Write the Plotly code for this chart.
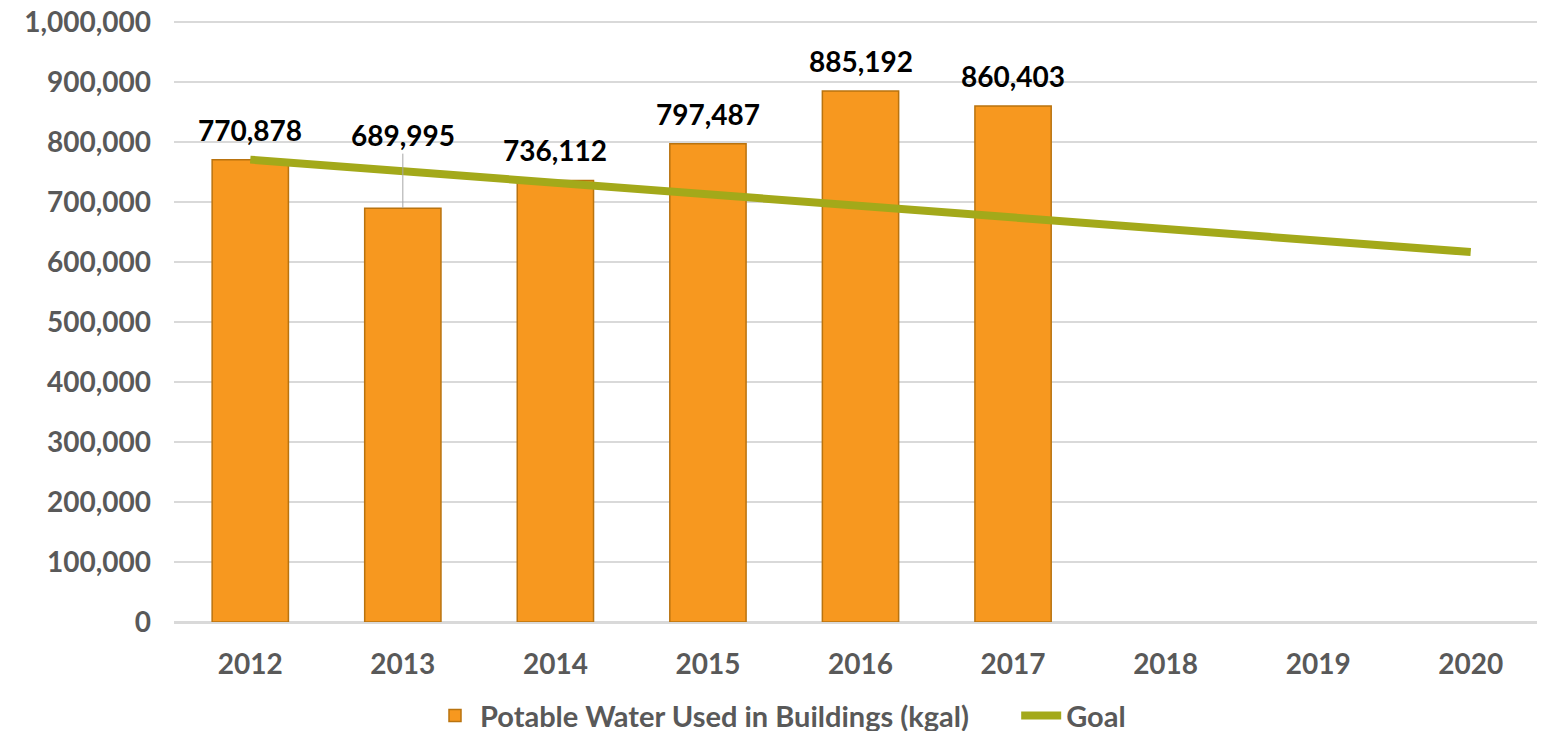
import plotly.graph_objects as go

years = ["2012", "2013", "2014", "2015", "2016", "2017", "2018", "2019", "2020"]
water_years = ["2012", "2013", "2014", "2015", "2016", "2017"]
water_used = [770878, 689995, 736112, 797487, 885192, 860403]
goal = [770878, 751606, 732334, 713062, 693790, 674518, 655246, 635975, 616702]
y_ticks = [0, 100000, 200000, 300000, 400000, 500000, 600000, 700000, 800000, 900000, 1000000]

grey = "#595959"
font_family = "Lato, 'Open Sans', sans-serif"

fig = go.Figure()
fig.add_trace(go.Bar(
    x=water_years, y=water_used,
    name="Potable Water Used in Buildings (kgal)\u00a0\u00a0\u00a0\u00a0\u00a0\u00a0",
    marker=dict(color="#F7981F", line=dict(color="#B9730F", width=1.5)),
    width=0.5,
))
fig.add_trace(go.Scatter(
    x=years, y=goal, name="Goal", mode="lines",
    line=dict(color="#A3A91A", width=8),
))

# data labels (x as category index so "2012" isn't read as a number)
for yr, v in zip(water_years, water_used):
    i = years.index(yr)
    lab_font = dict(size=28, color="black", family=font_family, weight="bold")
    if yr == "2013":
        fig.add_annotation(x=i, y=v, text=f"{v:,}", showarrow=True,
                           arrowhead=0, arrowwidth=1, arrowcolor="#A6A6A6",
                           ax=0, ay=-73, font=lab_font)
    else:
        fig.add_annotation(x=i, y=v, text=f"{v:,}", showarrow=False,
                           yshift=30, font=lab_font)

fig.update_layout(
    width=1545, height=731,
    paper_bgcolor="white", plot_bgcolor="white",
    margin=dict(l=166, r=6, t=13, b=117, autoexpand=False),
    bargap=0.5,
    font=dict(family=font_family, color=grey, size=28, weight="bold"),
    legend=dict(orientation="h", xref="container", x=0.5, xanchor="center",
                yref="container", y=0.032, yanchor="middle",
                font=dict(size=29, color=grey, weight="bold"),
                itemwidth=40, traceorder="normal"),
    xaxis=dict(type="category", categoryorder="array", categoryarray=years,
               range=[-0.5, 8.5], automargin=False,
               showgrid=False, showline=True, linecolor="#D9D9D9", linewidth=2,
               ticks="", ticklabelstandoff=16,
               tickfont=dict(size=28, color=grey, weight="bold")),
    yaxis=dict(range=[0, 1002000], tickmode="array", tickvals=y_ticks,
               tickformat=",d", automargin=False, ticklabeloverflow="allow",
               showgrid=True, gridcolor="#D9D9D9", gridwidth=2,
               zeroline=True, zerolinecolor="#D9D9D9", zerolinewidth=2,
               ticks="", ticklabelstandoff=22,
               tickfont=dict(size=28, color=grey, weight="bold")),
)

fig.write_html("out.html")
